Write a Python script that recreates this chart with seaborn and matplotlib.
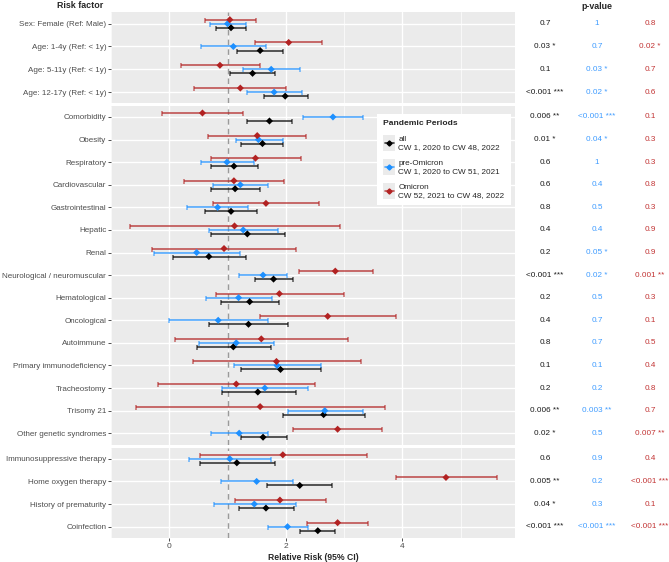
import numpy as np
import pandas as pd
import matplotlib
matplotlib.use("Agg")
import matplotlib.pyplot as plt
import seaborn as sns
from matplotlib.legend_handler import HandlerBase
from matplotlib.patches import Rectangle
from matplotlib.lines import Line2D

# ---------------- data ----------------
risk_factors = [
    "Sex: Female (Ref: Male)", "Age: 1-4y (Ref: < 1y)", "Age: 5-11y (Ref: < 1y)",
    "Age: 12-17y (Ref: < 1y)",
    "Comorbidity", "Obesity", "Respiratory", "Cardiovascular", "Gastrointestinal",
    "Hepatic", "Renal", "Neurological / neuromuscular", "Hematological", "Oncological",
    "Autoimmune", "Primary immunodeficiency", "Tracheostomy", "Trisomy 21",
    "Other genetic syndromes",
    "Immunosuppressive therapy", "Home oxygen therapy", "History of prematurity",
    "Coinfection",
]
panel_sizes = [4, 15, 4]

periods = ["all", "pre-Omicron", "Omicron"]
period_labels = ["all\nCW 1, 2020 to CW 48, 2022",
                 "pre-Omicron\nCW 1, 2020 to CW 51, 2021",
                 "Omicron\nCW 52, 2021 to CW 48, 2022"]

all_est = [1.06, 1.56, 1.43, 1.99, 1.72, 1.60, 1.11, 1.13, 1.06, 1.34, 0.68, 1.79,
           1.38, 1.36, 1.10, 1.91, 1.52, 2.65, 1.61, 1.16, 2.24, 1.66, 2.55]
all_lo = [0.80, 1.16, 1.04, 1.62, 1.34, 1.24, 0.71, 0.71, 0.62, 0.71, 0.07, 1.47,
          0.88, 0.68, 0.47, 1.23, 0.91, 1.96, 1.23, 0.52, 1.68, 1.19, 2.25]
all_hi = [1.31, 1.96, 1.82, 2.38, 2.11, 1.96, 1.52, 1.56, 1.51, 1.99, 1.31, 2.13,
          1.89, 2.04, 1.75, 2.60, 2.17, 3.36, 2.02, 1.81, 2.80, 2.14, 2.85]

pre_est = [1.00, 1.10, 1.75, 1.80, 2.81, 1.53, 0.99, 1.22, 0.83, 1.27, 0.47, 1.61,
           1.19, 0.84, 1.15, 1.85, 1.64, 2.67, 1.20, 1.04, 1.50, 1.46, 2.03]
pre_lo = [0.70, 0.54, 1.26, 1.33, 2.30, 1.14, 0.54, 0.75, 0.30, 0.68, -0.27, 1.20,
          0.63, 0.00, 0.51, 1.11, 0.91, 2.03, 0.72, 0.34, 0.88, 0.76, 1.69]
pre_hi = [1.32, 1.66, 2.25, 2.28, 3.33, 1.95, 1.45, 1.69, 1.35, 1.86, 1.22, 2.02,
          1.76, 1.70, 1.80, 2.60, 2.39, 3.32, 1.70, 1.75, 2.13, 2.17, 2.39]

omi_est = [1.04, 2.05, 0.87, 1.22, 0.57, 1.51, 1.48, 1.11, 1.66, 1.12, 0.94, 2.85,
           1.89, 2.72, 1.58, 1.84, 1.15, 1.56, 2.89, 1.95, 4.75, 1.90, 2.89]
omi_lo = [0.62, 1.48, 0.20, 0.42, -0.12, 0.67, 0.71, 0.25, 0.75, -0.68, -0.30, 2.22,
          0.80, 1.55, 0.10, 0.41, -0.19, -0.57, 2.13, 0.52, 3.89, 1.12, 2.36]
omi_hi = [1.49, 2.63, 1.55, 2.01, 1.27, 2.35, 2.26, 1.97, 2.57, 2.93, 2.18, 3.49,
          3.00, 3.90, 3.06, 3.29, 2.51, 3.70, 3.66, 3.39, 5.62, 2.69, 3.42]

p_all = ["0.7", "0.03 *", "0.1", "<0.001 ***", "0.006 **", "0.01 *", "0.6", "0.6",
         "0.8", "0.4", "0.2", "<0.001 ***", "0.2", "0.4", "0.8", "0.1", "0.2",
         "0.006 **", "0.02 *", "0.6", "0.005 **", "0.04 *", "<0.001 ***"]
p_pre = ["1", "0.7", "0.03 *", "0.02 *", "<0.001 ***", "0.04 *", "1", "0.4", "0.5",
         "0.4", "0.05 *", "0.02 *", "0.5", "0.7", "0.7", "0.1", "0.2", "0.003 **",
         "0.5", "0.9", "0.2", "0.3", "<0.001 ***"]
p_omi = ["0.8", "0.02 *", "0.7", "0.6", "0.1", "0.3", "0.3", "0.8", "0.3", "0.9",
         "0.9", "0.001 **", "0.3", "0.1", "0.5", "0.4", "0.8", "0.7", "0.007 **",
         "0.4", "<0.001 ***", "0.1", "<0.001 ***"]

x_ticks = [0, 2, 4]

# ---------------- style ----------------
point_colors = {"all": "#000000", "pre-Omicron": "#1E90FF", "Omicron": "#B22222"}
text_colors = {"all": "#1a1a1a", "pre-Omicron": "#3f9cff", "Omicron": "#c23434"}
offsets = {"all": 0.177, "pre-Omicron": 0.0, "Omicron": -0.177}

sns.set_theme(style="darkgrid", rc={
    "axes.facecolor": "#EBEBEB",
    "grid.color": "white",
    "figure.facecolor": "white",
})
plt.rcParams['font.family'] = ['Liberation Sans', 'DejaVu Sans']

FS = 5.75

# long data frame
rows = []
for period, est, lo, hi in [("all", all_est, all_lo, all_hi),
                            ("pre-Omicron", pre_est, pre_lo, pre_hi),
                            ("Omicron", omi_est, omi_lo, omi_hi)]:
    for i, rf in enumerate(risk_factors):
        rows.append(dict(risk=rf, idx=i, period=period, rr=est[i], lo=lo[i], hi=hi[i]))
df = pd.DataFrame(rows)
panel_id = np.repeat(np.arange(len(panel_sizes)), panel_sizes)
starts = np.concatenate([[0], np.cumsum(panel_sizes)[:-1]])
df["panel"] = panel_id[df["idx"]]
df["row"] = df["idx"] - starts[df["panel"]]
df["ypos"] = df["row"] + df["period"].map(offsets)

xmin = df["lo"].min(); xmax = df["hi"].max()
pad = 0.05 * (xmax - xmin)
xlim = (xmin - pad, xmax + pad)

W, H = 669, 562
fig = plt.figure(figsize=(W / 100, H / 100), dpi=100)
panel_px = [(12.3, 103.5), (105.7, 444.5), (447.5, 538.0)]
left_px, right_px = 111, 515

p_cols = [(p_all, "all", 545), (p_pre, "pre-Omicron", 597), (p_omi, "Omicron", 650)]

axes = []
for k, (top, bot) in enumerate(panel_px):
    ax = fig.add_axes([left_px / W, 1 - bot / H, (right_px - left_px) / W, (bot - top) / H])
    axes.append(ax)
    n = panel_sizes[k]
    sub = df[df["panel"] == k]
    ax.axvline(1, color="#9a9a9a", ls=(0, (4, 3)), lw=1.0, zorder=1.5)
    for period in periods:
        s = sub[sub["period"] == period]
        ax.errorbar(s["rr"], s["ypos"], xerr=[s["rr"] - s["lo"], s["hi"] - s["rr"]],
                    fmt="none", ecolor=point_colors[period], alpha=0.65,
                    elinewidth=1.4, capsize=1.8, capthick=1.1, zorder=2)
    sns.scatterplot(data=sub, x="rr", y="ypos", hue="period", hue_order=periods,
                    palette=point_colors, marker="D", s=13, linewidth=0,
                    legend=False, ax=ax, zorder=3)
    ax.set_xlim(xlim)
    ax.set_ylim(n - 1 + 0.5, -0.5)
    ax.set_yticks(range(n))
    ax.set_yticklabels(risk_factors[starts[k]:starts[k] + n])
    ax.set_xticks(x_ticks)
    ax.set_xticks([-1, 1, 3, 5], minor=True)
    ax.grid(True, which="major", color="white", lw=1.0)
    ax.grid(True, which="minor", axis="x", color="white", lw=0.5)
    ax.set_xlabel(""); ax.set_ylabel("")
    for sp in ax.spines.values():
        sp.set_visible(False)
    ax.tick_params(axis="y", which="major", left=True, length=2, width=0.6,
                   color="#333333", labelsize=FS, labelcolor="#4D4D4D", pad=1.5)
    ax.tick_params(axis="x", which="minor", bottom=False)
    if k < len(panel_px) - 1:
        ax.tick_params(axis="x", which="major", bottom=False, labelbottom=False)
    else:
        ax.tick_params(axis="x", which="major", bottom=True, length=2, width=0.6,
                       color="#333333", labelsize=FS + 0.3, labelcolor="#4D4D4D", pad=1.5)
        ax.set_xlabel("Relative Risk (95% CI)", fontsize=6.2, fontweight="bold",
                      labelpad=2)
    # p-values
    for plist, period, xpx in p_cols:
        xa = (xpx - left_px) / (right_px - left_px)
        for r in range(n):
            ax.text(xa, r, plist[starts[k] + r], transform=ax.get_yaxis_transform(),
                    ha="center", va="center", fontsize=FS + 0.1,
                    color=text_colors[period], clip_on=False)

fig.text(80 / W, 1 - 5.5 / H, "Risk factor", ha="center", va="center",
         fontsize=6.4, fontweight="bold")
fig.text(597 / W, 1 - 6.5 / H, "p-value", ha="center", va="center",
         fontsize=6.4, fontweight="bold")


# ---------------- legend ----------------
class KeyHandler(HandlerBase):
    def create_artists(self, legend, orig_handle, xdescent, ydescent, width, height,
                       fontsize, trans):
        c = orig_handle.get_color()
        rect = Rectangle((-xdescent, -ydescent), width, height, facecolor="#EBEBEB",
                         edgecolor="none", transform=trans)
        cy = -ydescent + height / 2
        line = Line2D([-xdescent + 0.12 * width, -xdescent + 0.88 * width], [cy, cy],
                      color=c, lw=1.2, alpha=0.75, transform=trans)
        mk = Line2D([-xdescent + width / 2], [cy], marker="D", ms=2.6, color=c,
                    ls="none", transform=trans)
        return [rect, line, mk]


handles = [Line2D([], [], color=point_colors[p]) for p in periods]
leg = fig.legend(handles, period_labels, title="Pandemic Periods",
                 loc="upper left", bbox_to_anchor=(377 / W, 1 - 114 / H),
                 frameon=True, fancybox=False, facecolor="white", edgecolor="none",
                 framealpha=1, fontsize=5.9, title_fontsize=6.1, alignment="left",
                 handler_map={Line2D: KeyHandler()}, handlelength=1.5,
                 handleheight=2.6, handletextpad=0.35, labelspacing=1.0,
                 borderpad=0.75, borderaxespad=0)
leg.get_title().set_fontweight("bold")
for t in leg.get_texts():
    t.set_linespacing(1.2)

fig.savefig("out.png", dpi=100)
